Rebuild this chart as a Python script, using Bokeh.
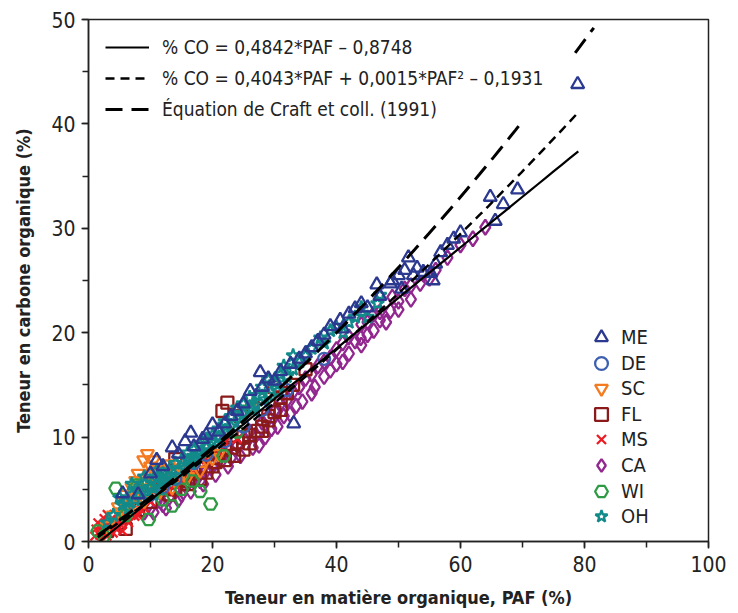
import numpy as np
from bokeh.plotting import figure
from bokeh.models import Legend, LegendItem, SingleIntervalTicker, Range1d
from bokeh.embed import file_html
from bokeh.resources import INLINE

# ---------------- data ----------------
me_x = [5.5, 8, 12, 13.5, 14.5, 15.6, 16.5, 17, 18.4, 19, 21, 22, 24, 26.1, 27.7, 29, 31, 32.6, 33.1, 34,
        36, 38, 40.6, 42, 44, 45, 46.5, 47, 48.7, 50, 50.5, 51.6, 52.4, 53, 54, 55.2, 55.6, 56, 56.8, 57.9,
        58.9, 60, 64.8, 65.6, 66.9, 69.2, 78.9,
        10, 11, 20, 23, 25, 28, 30, 35, 37, 39, 41, 43, 49, 51]
me_y = [4.6, 4.5, 7.2, 9.0, 8.4, 9.6, 10.4, 9.1, 9.8, 10.2, 10.5, 11.3, 12.5, 14.4, 16.2, 15.6, 16.3, 17.0, 11.3, 17.5,
        18.6, 19.8, 21.2, 21.8, 22.8, 22.4, 24.6, 23.5, 24.7, 25.5, 24.2, 27.2, 25.5, 26.2, 25.8, 25.7, 25.0, 26.6, 27.7, 28.4,
        29.0, 29.6, 33.0, 30.7, 32.3, 33.7, 43.8,
        6.5, 7.8, 11.2, 12.0, 13.2, 14.8, 15.4, 18.0, 19.2, 20.6, 20.4, 22.3, 25.0, 26.0]

de_x = [10, 12, 14, 17, 19, 22, 25, 28, 32, 38]
de_y = [4.5, 5.2, 6.0, 7.5, 8.3, 9.6, 11.0, 12.6, 14.5, 17.5]

sc_x = [3, 4, 4.8, 5.5, 6, 6.5, 7, 7.6, 8, 8.9, 9.5, 10, 10.5, 11, 11.5, 12, 12.5, 13, 13.5, 14,
        15, 16, 17, 18, 19, 20, 21, 9, 8.5,
        5, 6, 7, 8, 9, 10, 10.5, 11, 12, 13, 14, 7.5, 9.5, 15.5]
sc_y = [1.5, 2.5, 3.3, 3.8, 4.5, 3.0, 5.2, 5.8, 4.2, 7.8, 8.4, 6.5, 5.5, 7.0, 4.8, 6.8, 6.0, 7.4, 5.2, 6.5,
        7.0, 6.2, 7.5, 6.8, 7.9, 8.0, 8.4, 3.9, 5.0,
        2.8, 3.6, 4.0, 6.5, 6.0, 7.2, 7.8, 5.8, 5.5, 6.0, 5.8, 3.5, 4.5, 6.4]

fl_x = [3, 5, 8, 10, 12, 14, 15, 16, 17, 18, 19, 20, 21, 21.6, 22.4, 22, 23, 24, 25, 26,
        27.3, 27.7, 28, 29, 30, 31, 33, 35, 13, 11, 30, 6, 26.5,
        14, 15.5, 16.5, 18, 20, 22, 23.5, 25, 26, 28, 29, 31, 32, 24.5, 20.5]
fl_y = [1.0, 1.8, 3.0, 3.8, 5.0, 7.9, 6.2, 5.5, 6.8, 7.2, 6.6, 8.0, 8.5, 12.5, 13.3, 7.8, 9.0, 9.5, 8.8, 10.2,
        10.6, 13.8, 11.0, 12.0, 12.4, 13.8, 15.0, 16.5, 4.5, 6.0, 14.8, 1.2, 12.8,
        5.0, 5.8, 6.5, 6.0, 7.2, 8.8, 8.2, 10.0, 9.4, 10.6, 11.6, 12.6, 14.2, 12.0, 7.6]

ms_x = [1, 1.5, 2, 2.5, 3, 3.5, 4, 4.5, 5, 5.5, 6, 6.5, 7, 2, 3, 8, 9, 10, 11, 12,
        14, 16, 18, 20, 22,
        1.2, 1.8, 2.2, 2.8, 3.2, 3.8, 4.2, 4.8, 5.2, 6.2, 7.5, 8.5, 13, 15, 17, 19, 21, 24]
ms_y = [0.5, 1.8, 1.0, 2.2, 0.5, 1.5, 0.8, 1.2, 2.0, 1.0, 2.5, 1.8, 3.0, 0.2, 2.6, 2.5, 3.2, 3.8, 4.5, 5.0,
        5.5, 7.0, 8.0, 8.8, 9.5,
        1.2, 0.6, 1.5, 1.0, 1.8, 2.2, 1.4, 2.6, 1.6, 2.0, 2.4, 3.0, 4.8, 5.8, 6.5, 7.8, 8.6, 9.8]

ca_x = [9, 10, 11, 12, 13, 14, 15, 16, 17, 18, 19, 20, 21, 22, 23, 24, 25, 26, 27, 28,
        29, 30, 31, 32, 33, 34, 35, 36, 37, 38, 39, 40, 41, 42, 43.9, 44, 45, 46, 47, 48.7,
        49, 50, 51, 52, 53.5, 54, 55, 57.9, 64, 29.5, 31.5, 27.5, 36.5, 33.5,
        10.5, 12.5, 14.5, 16.5, 18.5, 20.5, 22.5, 24.5, 26.5, 28.5, 30.5, 32.5, 34.5, 36, 38, 40,
        42, 44, 46, 48, 50, 52, 56, 60, 62, 39, 41, 43, 45, 47]
ca_y = [2.8, 3.2, 3.8, 3.5, 4.2, 4.8, 4.5, 5.5, 6.0, 5.8, 6.8, 7.2, 7.8, 8.4, 8.0, 9.2, 9.8, 10.5, 10.2, 11.4,
        12.0, 12.5, 13.2, 13.5, 14.3, 14.8, 15.6, 16.0, 16.8, 17.2, 17.6, 18.4, 19.0, 19.6, 19.5, 20.8, 21.0, 21.8, 22.0, 22.1,
        23.4, 23.0, 24.2, 24.5, 24.7, 25.6, 25.2, 27.2, 30.1, 10.8, 12.0, 9.2, 14.8, 13.0,
        2.8, 3.2, 4.0, 4.8, 5.5, 6.4, 7.2, 8.2, 9.0, 10.0, 11.0, 12.2, 13.4, 14.2, 15.8, 17.0,
        18.0, 18.8, 20.2, 21.0, 22.2, 23.2, 26.0, 28.4, 29.0, 16.4, 17.2, 19.2, 19.8, 21.2]

wi_x = [1.5, 2.5, 4.4, 7.9, 9.7, 10.8, 12, 13.5, 15, 16.8, 18, 19.7, 21.8, 26.1, 24, 6]
wi_y = [1.0, 0.5, 5.1, 5.4, 2.1, 5.7, 4.0, 3.4, 5.0, 5.8, 4.8, 3.6, 8.2, 12.8, 10.5, 2.5]

oh_x = [5, 6, 7, 8, 9, 10, 11, 12, 13, 14, 15, 16, 17, 18, 19, 20, 21, 22, 23, 24,
        25, 26, 27, 28, 29, 30, 31, 33, 35, 37.4, 39, 41.1, 43, 46.6, 47, 13.5, 15.5, 17.5, 10.5, 8.5,
        6.5, 20.5, 22.5, 24.5, 26.5, 28.5, 30.5, 12.5, 4, 3, 11.5, 16.5, 18.5, 44, 45,
        5.5, 7.5, 9.5, 11, 12, 13, 14.5, 16, 17, 18, 19, 20, 21, 23, 25, 27, 29, 32, 34, 36,
        38, 40, 42, 31.5, 33, 9, 7, 11]
oh_y = [4.2, 3.8, 4.5, 5.0, 5.5, 5.2, 6.0, 6.5, 6.8, 7.5, 7.8, 8.5, 8.8, 9.3, 9.8, 10.2, 10.8, 11.5, 12.0, 12.8,
        13.2, 13.8, 14.0, 14.8, 15.5, 15.2, 16.0, 16.5, 17.8, 19.5, 20.2, 20.0, 21.5, 22.8, 23.6, 6.0, 7.0, 8.0, 4.5, 4.0,
        3.2, 9.5, 10.5, 11.8, 12.6, 13.6, 14.4, 5.8, 2.5, 1.8, 5.0, 7.5, 8.7, 22.4, 21.5,
        3.5, 4.0, 4.8, 5.5, 6.0, 6.2, 6.8, 7.8, 8.0, 8.5, 9.0, 9.5, 10.0, 11.0, 12.2, 13.0, 14.0, 15.8, 17.2, 18.5,
        19.0, 20.5, 21.0, 16.8, 17.8, 6.2, 5.5, 6.8]

# fitted equations shown in the legend
lin_x = np.linspace(1.5, 79, 60)
lin_y = 0.4842 * lin_x - 0.8748
quad_x = np.linspace(1.5, 79, 60)
quad_y = 0.4043 * quad_x + 0.0015 * quad_x ** 2 - 0.1931
craft_x = np.linspace(1.5, 70, 60)
craft_y = 0.40 * craft_x + 0.0025 * craft_x ** 2
craft2_x = np.linspace(78.5, 81.5, 5)
craft2_y = 0.40 * craft2_x + 0.0025 * craft2_x ** 2

FONT = "DejaVu Sans Condensed, sans-serif"
INK = "#222222"

p = figure(width=738, height=613, output_backend="svg", toolbar_location=None,
           x_range=Range1d(0, 100), y_range=Range1d(0, 50),
           min_border_left=88, min_border_right=30, min_border_top=19, min_border_bottom=72)
p.xgrid.visible = False
p.ygrid.visible = False
p.outline_line_color = INK
p.outline_line_width = 1.5
p.background_fill_color = "white"
p.border_fill_color = "white"

series = [
    ("ME", me_x, me_y, "triangle", "#2b3990", 13),
    ("DE", de_x, de_y, "circle", "#3d5fb0", 12),
    ("SC", sc_x, sc_y, "inverted_triangle", "#f47b20", 13),
    ("FL", fl_x, fl_y, "square", "#8b1a1a", 12),
    ("MS", ms_x, ms_y, "x", "#ed1c24", 12),
    ("CA", ca_x, ca_y, "diamond", "#92278f", 15),
    ("WI", wi_x, wi_y, "hex", "#2e9a44", 13),
    ("OH", oh_x, oh_y, "star", "#138a8a", 14),
]
draw_order = ["CA", "FL", "MS", "SC", "WI", "DE", "OH", "ME"]
renderers = {}
for name in draw_order:
    for (n, xs, ys, mk, col, sz) in series:
        if n == name:
            r = p.scatter(xs, ys, marker=mk, size=sz, line_color=col, fill_color=None, line_width=2.3)
            renderers[n] = r

r_lin = p.line(lin_x, lin_y, line_color="black", line_width=2.2)
r_quad = p.line(quad_x, quad_y, line_color="black", line_width=2.5, line_dash="9 6")
r_craft = p.line(craft_x, craft_y, line_color="black", line_width=3, line_dash="17 9")
p.line(craft2_x, craft2_y, line_color="black", line_width=3, line_dash="17 9")

# axes
p.xaxis.ticker = SingleIntervalTicker(interval=20, num_minor_ticks=2)
p.yaxis.ticker = SingleIntervalTicker(interval=10, num_minor_ticks=2)
for ax in (p.xaxis[0], p.yaxis[0]):
    ax.axis_line_color = INK
    ax.axis_line_width = 1.5
    ax.major_tick_line_color = INK
    ax.minor_tick_line_color = INK
    ax.major_tick_line_width = 1.5
    ax.minor_tick_line_width = 1.5
    ax.major_tick_out = 7
    ax.major_tick_in = 0
    ax.minor_tick_out = 6
    ax.minor_tick_in = 0
    ax.major_label_text_font = FONT
    ax.major_label_text_font_size = "21px"
    ax.major_label_text_color = INK
    ax.axis_label_text_font = FONT
    ax.axis_label_text_font_size = "18px"
    ax.axis_label_text_font_style = "bold"
    ax.axis_label_text_color = INK
p.xaxis.axis_label = "Teneur en matière organique, PAF (%)"
p.yaxis.axis_label = "Teneur en carbone organique (%)"
p.xaxis.major_label_standoff = 7
p.yaxis.major_label_standoff = 6
p.xaxis.axis_label_standoff = 12
p.yaxis.axis_label_standoff = 14

# line legend
leg1 = Legend(items=[
    LegendItem(label="% CO = 0,4842*PAF – 0,8748", renderers=[r_lin]),
    LegendItem(label="% CO = 0,4043*PAF + 0,0015*PAF² – 0,1931", renderers=[r_quad]),
    LegendItem(label="Équation de Craft et coll. (1991)", renderers=[r_craft]),
], location=(17, 421))
leg1.border_line_color = None
leg1.background_fill_alpha = 0
leg1.label_text_font = FONT
leg1.label_text_font_size = "19px"
leg1.label_text_color = INK
leg1.glyph_width = 44
leg1.glyph_height = 22
leg1.label_standoff = 13
leg1.spacing = 9
leg1.padding = 8
leg1.margin = 0
p.add_layout(leg1, "center")

# marker legend: one single-item legend per series, stacked at a fixed pitch
for i, s in enumerate(series):
    center_px = 333 + i * 25.6          # row centre, from top of canvas
    loc_y = int(round(521 - center_px))  # distance of legend bottom above frame bottom
    lg = Legend(items=[LegendItem(label=s[0], renderers=[renderers[s[0]]])], location=(497, loc_y))
    lg.border_line_color = None
    lg.background_fill_alpha = 0
    lg.label_text_font = FONT
    lg.label_text_font_size = "20px"
    lg.label_text_color = INK
    lg.glyph_width = 32
    lg.glyph_height = 32
    lg.label_standoff = 4
    lg.spacing = 0
    lg.padding = 4
    lg.margin = 0
    p.add_layout(lg, "center")

open("out.html", "w").write(file_html(p, INLINE))
